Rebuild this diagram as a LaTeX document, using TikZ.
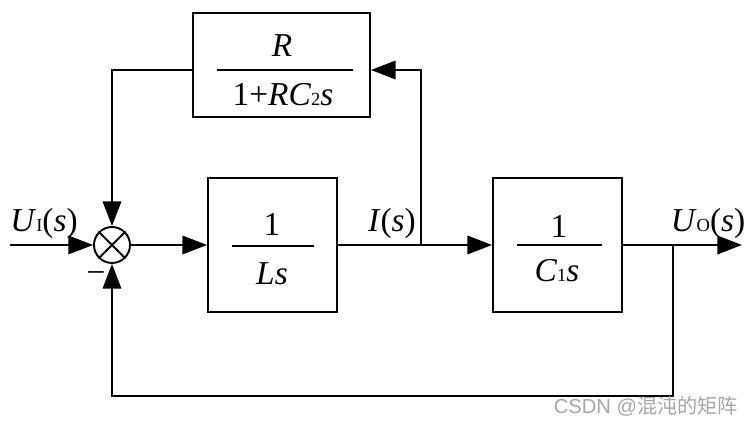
\documentclass[tikz,border=0pt]{standalone}
\usepackage{fontspec}
\setmainfont{Liberation Serif}
\newfontfamily\cjk{Noto Sans CJK SC}
\newfontfamily\wmfont{Liberation Sans}
\usetikzlibrary{arrows.meta}
\newlength{\unitlen}
\setlength{\unitlen}{0.02cm}
\tikzset{
  wire/.style={line width=1.1pt},
  sig/.style={wire,-{Triangle[length=14pt,width=10.5pt]}},
  blk/.style={draw,line width=1.1pt,inner sep=0pt},
  lbl/.style={font=\fontsize{19}{20}\selectfont,inner sep=0pt},
}
\newcommand{\sbs}[1]{{\fontsize{10.5}{10.5}\selectfont #1}}
\begin{document}
\begin{tikzpicture}[x=0.02cm,y=-0.02cm]
\useasboundingbox (0,0) rectangle (752,428);
% summing junction
\node[circle,draw,line width=1.1pt,minimum size=36\unitlen,inner sep=0pt] (sum) at (112,245) {};
\draw[wire] (sum.north west) -- (sum.south east) (sum.north east) -- (sum.south west);
% blocks
\node[blk,minimum width=129\unitlen,minimum height=134\unitlen] (ls) at (272.5,245) {};
\node[blk,minimum width=129\unitlen,minimum height=134\unitlen] (cs) at (557.5,245) {};
\node[blk,minimum width=177\unitlen,minimum height=104\unitlen] (rb) at (281.5,65) {};
% fraction contents
\node[lbl] (lsn) at (272,224) {1};
\node[lbl] (lsd) at (272,274) {\textit{Ls}};
\draw[wire] (232,246) -- (314,246);
\node[lbl] (csn) at (559,226) {1};
\node[lbl] (csd) at (557,271) {\textit{C}\sbs{1}\textit{s}};
\draw[wire] (517,245) -- (602,245);
\node[lbl] (rbn) at (282,46) {\textit{R}};
\node[lbl] (rbd) at (283,95) {1+\textit{RC}\sbs{2}\textit{s}};
\draw[wire] (217,70) -- (353,70);
% coordinates
\coordinate (in) at (10,245);
\coordinate (b1) at (421,245);
\coordinate (b2) at (673,245);
\coordinate (out) at (742,245);
\coordinate (t1) at (421,70);
\coordinate (t2) at (112,70);
\coordinate (d1) at (673,396);
\coordinate (d2) at (112,396);
% connectors
\draw[sig] (in) -- (sum.west);
\draw[sig] (sum.east) -- (ls.west);
\draw[sig] (ls.east) -- (cs.west);
\draw[sig] (cs.east) -- (out);
\draw[sig] (b1) -- (t1) -- (t1 -| rb.east);
\draw[sig] (t2 -| rb.west) -- (t2) -- (sum.north);
\draw[sig] (b2) -- (d1) -- (d2) -- (sum.south);
% labels
\node[lbl,anchor=base] (ui) at (44,232) {\textit{U}\sbs{I}(\textit{s})};
\node[lbl,anchor=base] (is) at (392,232) {\textit{I}(\textit{s})};
\node[lbl,anchor=base] (uo) at (708,232) {\textit{U}\sbs{O}(\textit{s})};
\node[lbl] (minus) at (96,278) {−};
\node[anchor=base,text=gray!70,inner sep=0pt] (wm) at (646,414) {\fontsize{11.5}{12}\selectfont\wmfont CSDN @{\cjk 混沌的矩阵}};
\end{tikzpicture}
\end{document}
